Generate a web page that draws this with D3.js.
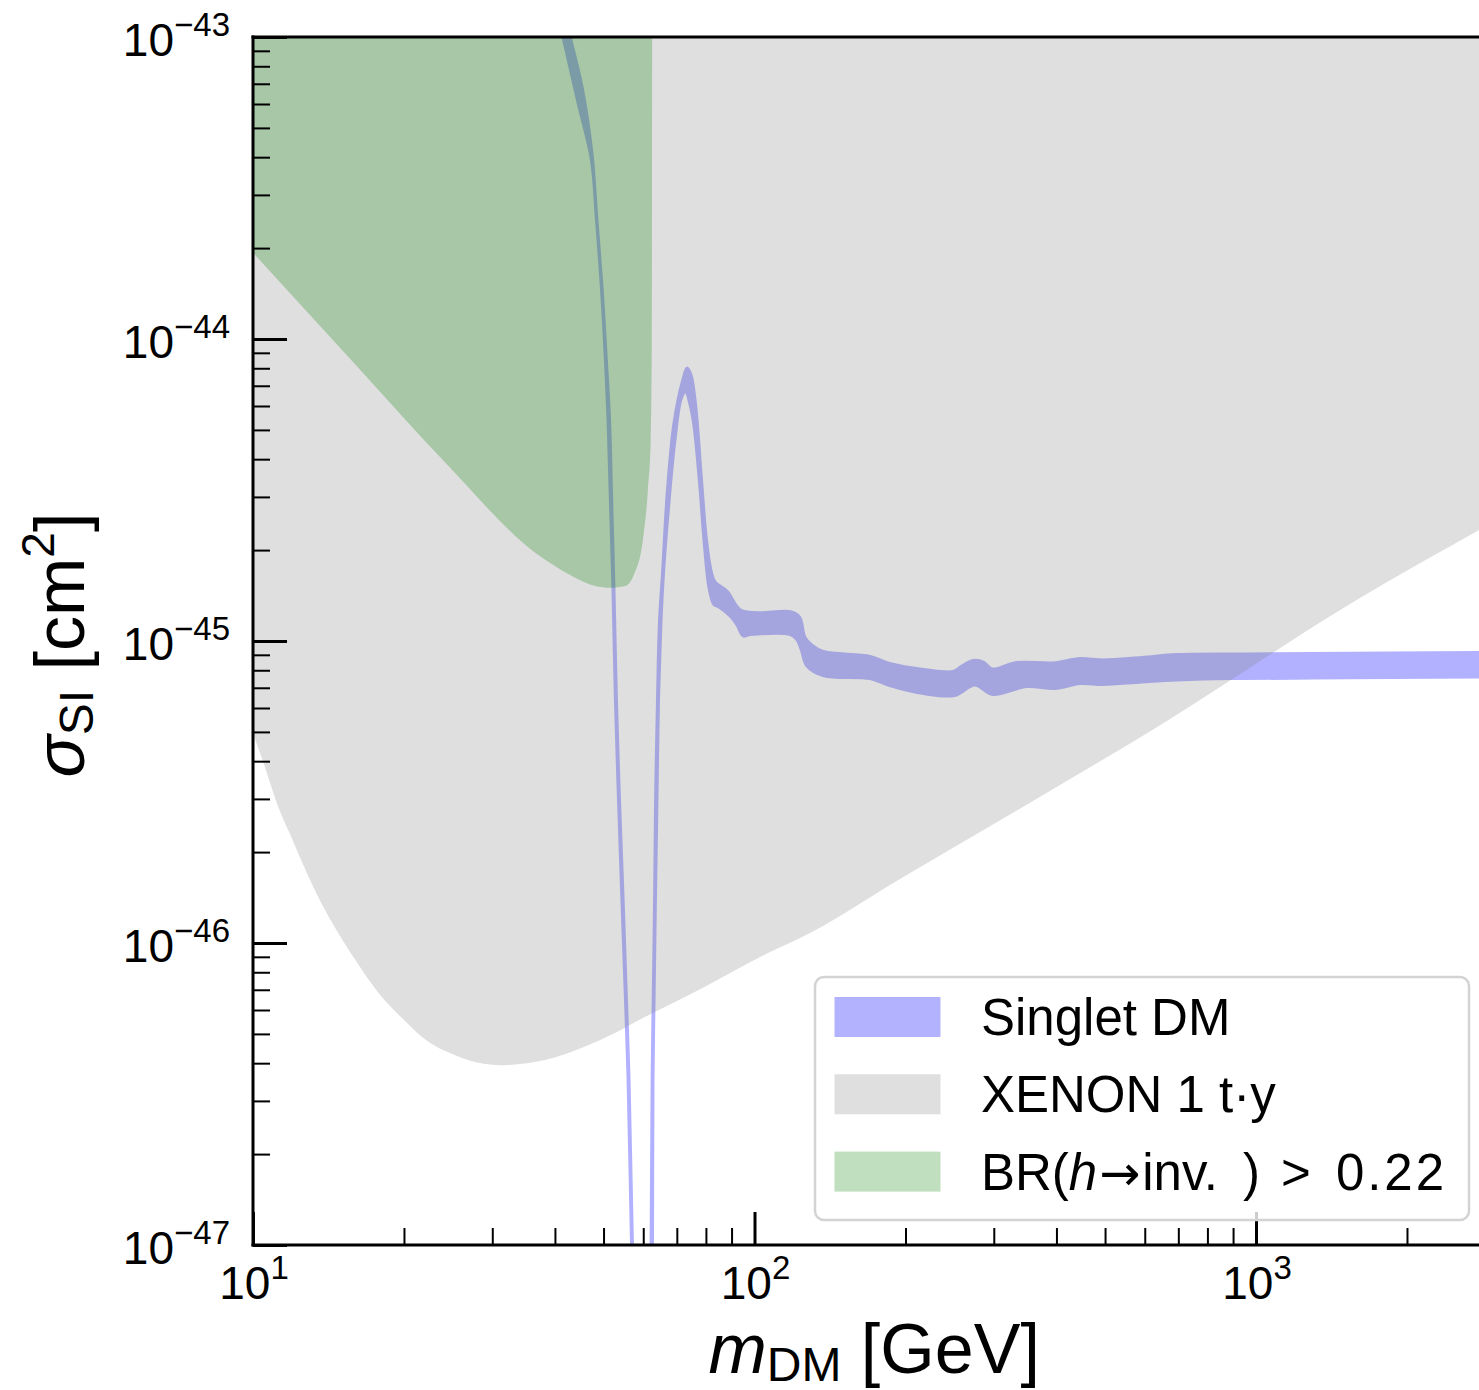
<!DOCTYPE html>
<html>
<head>
<meta charset="utf-8">
<script src="https://cdn.jsdelivr.net/npm/d3@7"></script>
<style>
  body { margin: 0; background: #fff; }
  svg { display: block; font-family: "Liberation Sans", Arial, Helvetica, sans-serif; }
</style>
</head>
<body>
<svg id="chart" width="1479" height="1390"></svg>
<script>
// [m_DM (GeV), sigma_SI (cm^2)]

// upper / lower edge of the singlet DM band (left branch, resonance dip, peak, plateau)
const singletUpper = [
  [41.8, 1.20e-43], [42.9, 1.00e-43], [45.3, 6.83e-44], [47.4, 4.13e-44],
  [48.5, 2.48e-44], [49.65, 1.49e-44], [50.55, 8.99e-45], [51.4, 5.39e-45],
  [51.9, 2.93e-45], [52.45, 1.50e-45], [53.05, 6.38e-46], [53.8, 2.98e-46],
  [54.7, 1.39e-46], [55.55, 6.48e-47], [56.2, 3.57e-47], [57.1, 1.00e-47],
  [57.8, 5.2e-48], [61.9, 5.2e-48], [62.2, 1.00e-47], [62.5, 3.57e-47],
  [62.8, 6.48e-47], [63.2, 1.39e-46], [63.5, 2.98e-46], [64.05, 6.38e-46],
  [64.65, 1.17e-45], [65.55, 1.68e-45], [67.05, 3.16e-45], [69.1, 5.27e-45],
  [71.85, 7.26e-45], [73.35, 8.02e-45], [74.7, 7.60e-45], [76.3, 6.05e-45],
  [78.4, 3.41e-45], [80.2, 2.16e-45], [82.1, 1.68e-45], [83.4, 1.57e-45],
  [88.2, 1.46e-45], [93.6, 1.27e-45], [101, 1.24e-45], [118, 1.25e-45],
  [123, 1.20e-45], [126, 1.03e-45], [130, 9.70e-46], [137, 9.23e-46],
  [170, 8.89e-46], [186, 8.42e-46], [217, 8.05e-46], [249, 7.93e-46],
  [259, 8.26e-46], [273, 8.62e-46], [286, 8.52e-46], [298, 8.08e-46],
  [333, 8.49e-46], [394, 8.46e-46], [446, 8.75e-46], [495, 8.65e-46],
  [592, 8.82e-46], [695, 9.02e-46], [874, 9.06e-46], [942, 9.06e-46],
  [1540, 9.10e-46], [2780, 9.16e-46], [5000, 9.2e-46]
];

const singletLower = [
  [40.5, 1.20e-43], [41.5, 1.00e-43], [44.5, 6.04e-44], [47.3, 3.91e-44],
  [48.4, 2.48e-44], [49.5, 1.49e-44], [50.35, 8.99e-45], [51.05, 5.39e-45],
  [51.6, 2.93e-45], [52.2, 1.50e-45], [52.8, 6.38e-46], [53.55, 2.98e-46],
  [54.4, 1.39e-46], [55.3, 6.48e-47], [55.95, 3.57e-47], [56.85, 1.00e-47],
  [57.5, 4.0e-48], [62.4, 4.0e-48], [62.6, 1.00e-47], [62.75, 3.57e-47],
  [63.05, 6.48e-47], [63.45, 1.39e-46], [63.9, 2.98e-46], [64.35, 6.38e-46],
  [65.1, 1.17e-45], [65.85, 1.68e-45], [67.4, 2.78e-45], [69.4, 4.63e-45],
  [71.5, 6.38e-45], [73.0, 6.70e-45], [74.0, 6.28e-45], [75.6, 5.27e-45],
  [77.85, 3.21e-45], [79.3, 2.16e-45], [81.15, 1.50e-45], [83.0, 1.32e-45],
  [84.6, 1.30e-45], [89.4, 1.21e-45], [92.3, 1.13e-45], [94.9, 1.04e-45],
  [98, 1.05e-45], [118, 1.05e-45], [121.5, 1.01e-45], [124, 9.34e-46],
  [127, 8.30e-46], [137, 7.69e-46], [170, 7.51e-46], [186, 7.12e-46],
  [217, 6.70e-46], [251, 6.60e-46], [275, 7.15e-46], [298, 6.65e-46],
  [349, 7.07e-46], [397, 6.96e-46], [446, 7.23e-46], [495, 7.18e-46],
  [592, 7.32e-46], [695, 7.43e-46], [888, 7.51e-46], [942, 7.51e-46],
  [1540, 7.55e-46], [2780, 7.60e-46], [5000, 7.62e-46]
];

// XENON1T (1 t*y) limit, everything above is excluded
const xenonLimit = [
  [10, 4.95e-46], [10.5, 3.94e-46], [11.3, 2.75e-46], [12.0, 2.19e-46],
  [12.8, 1.71e-46], [13.9, 1.29e-46], [15.1, 1.02e-46], [16.1, 8.65e-47],
  [17.8, 6.83e-47], [20.0, 5.56e-47], [22.4, 4.70e-47], [24.7, 4.32e-47],
  [26.8, 4.10e-47], [31.1, 3.94e-47], [36.7, 4.04e-47], [43.1, 4.36e-47],
  [50.8, 4.89e-47], [59.9, 5.65e-47], [74.0, 6.73e-47], [106.4, 9.27e-47],
  [129, 1.08e-46], [195, 1.63e-46], [309, 2.55e-46], [668, 5.47e-46],
  [1590, 1.37e-45], [2784, 2.33e-45], [3000, 2.50e-45]
];

// BR(h -> inv.) > 0.22 bound, region above excluded
const higgsInvBound = [
  [10, 1.93e-44], [16.1, 8.14e-45], [24.3, 3.86e-45], [36.7, 1.95e-45],
  [40.0, 1.77e-45], [43.9, 1.62e-45], [48.1, 1.52e-45], [51.5, 1.50e-45],
  [55.2, 1.52e-45], [57.5, 1.66e-45], [59.9, 2.16e-45], [61.3, 3.16e-45],
  [62.1, 4.63e-45], [62.4, 9.9e-45], [62.5, 1.00e-43]
];

const xMajorTicks = [10, 100, 1000];
const xTickExps = ['1', '2', '3'];
const yMajorTicks = [1e-43, 1e-44, 1e-45, 1e-46, 1e-47];
const yTickExps = ['\u221243', '\u221244', '\u221245', '\u221246', '\u221247'];
const legendLabels = ['Singlet DM', 'XENON 1 t\u00b7y', 'BR(h\u2192inv. ) > 0.22'];

const svg = d3.select('#chart');

const x = d3.scaleLog().domain([10, 3000]).range([253, 1495.3]);
const y = d3.scaleLog().domain([1e-47, 1e-43]).range([1245, 37]);
const [xL, xR] = x.range();
const [yB, yT] = y.range();

svg.append('defs').append('clipPath').attr('id', 'plot-clip')
  .append('rect')
  .attr('x', xL).attr('y', yT)
  .attr('width', xR - xL).attr('height', yB - yT);

const plot = svg.append('g').attr('clip-path', 'url(#plot-clip)');

// series styles (shared with the legend)
const styles = [
  { fill: 'blue', opacity: 0.3 },
  { fill: 'gray', opacity: 0.25 },
  { fill: 'green', opacity: 0.25 }
];

// singlet band as a closed outline: upper edge forward, lower edge back
const outline = d3.line()
  .x((d) => x(d[0]))
  .y((d) => y(d[1]))
  .curve(d3.curveCatmullRomClosed.alpha(0.5));

plot.append('path')
  .datum(singletUpper.concat(singletLower.slice().reverse()))
  .attr('d', outline)
  .attr('fill', styles[0].fill)
  .attr('stroke', styles[0].fill)
  .attr('stroke-width', 3)
  .attr('stroke-linejoin', 'round')
  .attr('opacity', styles[0].opacity);

// excluded regions: fill from the bound up to the top of the frame
const above = d3.area()
  .x((d) => x(d[0]))
  .y0(0)
  .y1((d) => y(d[1]))
  .curve(d3.curveMonotoneX);

plot.append('path')
  .datum(xenonLimit)
  .attr('d', above)
  .attr('fill', styles[1].fill)
  .attr('opacity', styles[1].opacity);

plot.append('path')
  .datum(higgsInvBound)
  .attr('d', above)
  .attr('fill', styles[2].fill)
  .attr('opacity', styles[2].opacity);

// ticks (inside)
const isMajor = (list) => (v) => list.some((m) => Math.abs(v / m - 1) < 1e-6);
const xMinor = x.ticks().filter((v) => !isMajor(xMajorTicks)(v));
const yMinor = y.ticks().filter((v) => !isMajor(yMajorTicks)(v));

function tickAxis(axis, transform, width) {
  svg.append('g')
    .attr('transform', transform)
    .call(axis.tickFormat(''))
    .call((g) => g.select('.domain').remove())
    .call((g) => g.selectAll('text').remove())
    .selectAll('line')
    .attr('stroke', '#000')
    .attr('stroke-width', width);
}

tickAxis(d3.axisBottom(x).tickValues(xMajorTicks).tickSize(-33), `translate(0,${yB})`, 3);
tickAxis(d3.axisBottom(x).tickValues(xMinor).tickSize(-17), `translate(0,${yB})`, 2);
tickAxis(d3.axisLeft(y).tickValues(yMajorTicks).tickSize(-34), `translate(${xL},0)`, 3);
tickAxis(d3.axisLeft(y).tickValues(yMinor).tickSize(-17), `translate(${xL},0)`, 2);

// frame
const frame = svg.append('g').attr('stroke', '#000').attr('stroke-width', 3)
  .attr('stroke-linecap', 'square');
frame.append('line').attr('x1', xL).attr('x2', xL).attr('y1', yT).attr('y2', yB);
frame.append('line').attr('x1', xL).attr('x2', xR).attr('y1', yB).attr('y2', yB);
frame.append('line').attr('x1', xL).attr('x2', xR).attr('y1', yT).attr('y2', yT);
frame.append('line').attr('x1', xR).attr('x2', xR).attr('y1', yT).attr('y2', yB);

// tick labels 10^n
function powLabel(px, py, anchor, exp) {
  const t = svg.append('text')
    .attr('x', px).attr('y', py)
    .attr('text-anchor', anchor)
    .attr('font-size', 46)
    .attr('fill', '#000');
  t.append('tspan').text('10');
  t.append('tspan').attr('font-size', 33).attr('dy', -20).text(exp);
}

xMajorTicks.forEach((v, i) => powLabel(x(v) + 1, yB + 54, 'middle', xTickExps[i]));
yMajorTicks.forEach((v, i) => powLabel(xL - 23, y(v) + 19, 'end', yTickExps[i]));

// axis titles
const xTitle = svg.append('text')
  .attr('x', (xL + xR) / 2).attr('y', 1373)
  .attr('text-anchor', 'middle').attr('font-size', 70);
xTitle.append('tspan').attr('font-style', 'italic').text('m');
xTitle.append('tspan').attr('font-size', 48).attr('dy', 8).text('DM');
xTitle.append('tspan').attr('dy', -8).text(' [GeV]');

const yTitle = svg.append('text')
  .attr('transform', `translate(84,${(yT + yB) / 2 + 4}) rotate(-90)`)
  .attr('text-anchor', 'middle').attr('font-size', 70);
yTitle.append('tspan').attr('font-style', 'italic').text('\u03c3');
yTitle.append('tspan').attr('font-size', 48).attr('dy', 9).text('SI');
yTitle.append('tspan').attr('dy', -9).text(' [cm');
yTitle.append('tspan').attr('font-size', 46).attr('dy', -30).text('2');
yTitle.append('tspan').attr('dy', 30).text(']');

// legend
const legend = svg.append('g');
legend.append('rect')
  .attr('x', 815).attr('y', 977)
  .attr('width', 654).attr('height', 243)
  .attr('rx', 9)
  .attr('fill', '#fff').attr('fill-opacity', 0.8)
  .attr('stroke', '#d3d3d3').attr('stroke-width', 2.5);

const rowY = (i) => 997 + i * 77.3;

legendLabels.forEach((label, i) => {
  legend.append('rect')
    .attr('x', 834.5).attr('y', rowY(i))
    .attr('width', 106).attr('height', 40)
    .attr('fill', styles[i].fill)
    .attr('opacity', styles[i].opacity);
});

const textY = (i) => rowY(i) + 38;
legend.append('text').attr('x', 981).attr('y', textY(0)).attr('font-size', 51).text(legendLabels[0]);
legend.append('text').attr('x', 981).attr('y', textY(1)).attr('font-size', 51).text(legendLabels[1]);

// BR(h->inv.) > 0.22 with italic h and mathtext-like spacing
const br = legend.append('text').attr('x', 981).attr('y', textY(2)).attr('font-size', 51);
br.append('tspan').text('BR(');
br.append('tspan').attr('font-style', 'italic').text('h');
br.append('tspan').attr('font-family', '"DejaVu Sans"').attr('font-size', 49).attr('dx', 2).text('\u2192');
br.append('tspan').attr('dx', 2).text('inv.');
br.append('tspan').attr('x', 1243).text(')');
br.append('tspan').attr('x', 1281).text('>');
br.append('tspan').attr('x', 1336).attr('textLength', 108).text('0.22');
</script>
</body>
</html>
